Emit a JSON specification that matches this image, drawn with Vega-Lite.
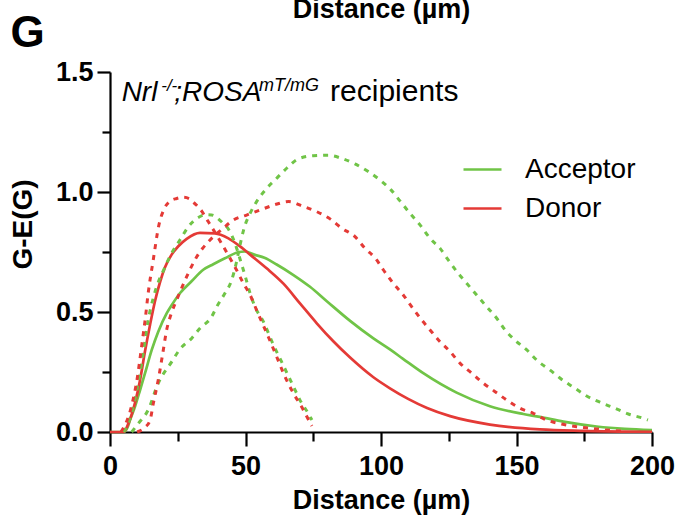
{
  "$schema": "https://vega.github.io/schema/vega-lite/v6.json",
  "width": 542,
  "height": 360,
  "autosize": {"type": "none"},
  "padding": {"left": 110, "top": 72, "right": 27, "bottom": 89},
  "background": "white",
  "config": {"view": {"stroke": null}},
  "datasets": {
    "curves": [
      {"g":"Acceptor","c":"mean","x":0,"y":0},{"g":"Acceptor","c":"mean","x":5,"y":0},{"g":"Acceptor","c":"mean","x":6.5,"y":0.02},{"g":"Acceptor","c":"mean","x":7.4,"y":0.05},{"g":"Acceptor","c":"mean","x":9.2,"y":0.105},{"g":"Acceptor","c":"mean","x":11.1,"y":0.175},{"g":"Acceptor","c":"mean","x":12.9,"y":0.244},{"g":"Acceptor","c":"mean","x":15.4,"y":0.342},{"g":"Acceptor","c":"mean","x":17.8,"y":0.418},{"g":"Acceptor","c":"mean","x":20.9,"y":0.494},{"g":"Acceptor","c":"mean","x":22.8,"y":0.529},{"g":"Acceptor","c":"mean","x":25.8,"y":0.578},{"g":"Acceptor","c":"mean","x":30.1,"y":0.628},{"g":"Acceptor","c":"mean","x":34.4,"y":0.676},{"g":"Acceptor","c":"mean","x":38.1,"y":0.699},{"g":"Acceptor","c":"mean","x":42.4,"y":0.724},{"g":"Acceptor","c":"mean","x":47.3,"y":0.749},{"g":"Acceptor","c":"mean","x":49.8,"y":0.752},{"g":"Acceptor","c":"mean","x":53.5,"y":0.738},{"g":"Acceptor","c":"mean","x":57,"y":0.726},{"g":"Acceptor","c":"mean","x":61.5,"y":0.698},{"g":"Acceptor","c":"mean","x":67.7,"y":0.654},{"g":"Acceptor","c":"mean","x":73.8,"y":0.605},{"g":"Acceptor","c":"mean","x":80,"y":0.545},{"g":"Acceptor","c":"mean","x":88.6,"y":0.463},{"g":"Acceptor","c":"mean","x":97.2,"y":0.39},{"g":"Acceptor","c":"mean","x":103.3,"y":0.344},{"g":"Acceptor","c":"mean","x":108,"y":0.306},{"g":"Acceptor","c":"mean","x":115.6,"y":0.245},{"g":"Acceptor","c":"mean","x":127.9,"y":0.164},{"g":"Acceptor","c":"mean","x":140.2,"y":0.107},{"g":"Acceptor","c":"mean","x":152.5,"y":0.075},{"g":"Acceptor","c":"mean","x":158.6,"y":0.063},{"g":"Acceptor","c":"mean","x":167.3,"y":0.043},{"g":"Acceptor","c":"mean","x":179.6,"y":0.023},{"g":"Acceptor","c":"mean","x":190,"y":0.013},{"g":"Acceptor","c":"mean","x":200,"y":0.008},

      {"g":"Donor","c":"mean","x":0,"y":0},{"g":"Donor","c":"mean","x":5,"y":0},{"g":"Donor","c":"mean","x":6.8,"y":0.036},{"g":"Donor","c":"mean","x":9.2,"y":0.12},{"g":"Donor","c":"mean","x":11.1,"y":0.217},{"g":"Donor","c":"mean","x":12.9,"y":0.335},{"g":"Donor","c":"mean","x":14.8,"y":0.448},{"g":"Donor","c":"mean","x":16.6,"y":0.545},{"g":"Donor","c":"mean","x":18.5,"y":0.626},{"g":"Donor","c":"mean","x":20.3,"y":0.686},{"g":"Donor","c":"mean","x":22.8,"y":0.74},{"g":"Donor","c":"mean","x":25.2,"y":0.774},{"g":"Donor","c":"mean","x":28.3,"y":0.805},{"g":"Donor","c":"mean","x":33.2,"y":0.83},{"g":"Donor","c":"mean","x":38.7,"y":0.828},{"g":"Donor","c":"mean","x":43.7,"y":0.807},{"g":"Donor","c":"mean","x":48.6,"y":0.768},{"g":"Donor","c":"mean","x":51.7,"y":0.739},{"g":"Donor","c":"mean","x":57.8,"y":0.682},{"g":"Donor","c":"mean","x":64,"y":0.618},{"g":"Donor","c":"mean","x":70.1,"y":0.536},{"g":"Donor","c":"mean","x":76.3,"y":0.453},{"g":"Donor","c":"mean","x":82.4,"y":0.378},{"g":"Donor","c":"mean","x":88.6,"y":0.31},{"g":"Donor","c":"mean","x":97.2,"y":0.228},{"g":"Donor","c":"mean","x":103.3,"y":0.182},{"g":"Donor","c":"mean","x":110,"y":0.138},{"g":"Donor","c":"mean","x":117,"y":0.1},{"g":"Donor","c":"mean","x":125.5,"y":0.066},{"g":"Donor","c":"mean","x":140.2,"y":0.031},{"g":"Donor","c":"mean","x":158.6,"y":0.011},{"g":"Donor","c":"mean","x":175,"y":0.005},{"g":"Donor","c":"mean","x":200,"y":0.001},

      {"g":"Acceptor","c":"sd1","x":5,"y":0},{"g":"Acceptor","c":"sd1","x":6.5,"y":0.03},{"g":"Acceptor","c":"sd1","x":8,"y":0.08},{"g":"Acceptor","c":"sd1","x":10,"y":0.18},{"g":"Acceptor","c":"sd1","x":12,"y":0.31},{"g":"Acceptor","c":"sd1","x":14,"y":0.46},{"g":"Acceptor","c":"sd1","x":16,"y":0.56},{"g":"Acceptor","c":"sd1","x":18,"y":0.63},{"g":"Acceptor","c":"sd1","x":20,"y":0.68},{"g":"Acceptor","c":"sd1","x":22.5,"y":0.74},{"g":"Acceptor","c":"sd1","x":25.8,"y":0.8},{"g":"Acceptor","c":"sd1","x":28.9,"y":0.855},{"g":"Acceptor","c":"sd1","x":32.6,"y":0.894},{"g":"Acceptor","c":"sd1","x":35.5,"y":0.905},{"g":"Acceptor","c":"sd1","x":37.5,"y":0.904},{"g":"Acceptor","c":"sd1","x":41.5,"y":0.872},{"g":"Acceptor","c":"sd1","x":44,"y":0.84},{"g":"Acceptor","c":"sd1","x":46,"y":0.79},{"g":"Acceptor","c":"sd1","x":48,"y":0.72},{"g":"Acceptor","c":"sd1","x":50,"y":0.645},{"g":"Acceptor","c":"sd1","x":51.7,"y":0.578},{"g":"Acceptor","c":"sd1","x":53.5,"y":0.522},{"g":"Acceptor","c":"sd1","x":56.6,"y":0.46},{"g":"Acceptor","c":"sd1","x":60.3,"y":0.363},{"g":"Acceptor","c":"sd1","x":63.3,"y":0.293},{"g":"Acceptor","c":"sd1","x":67.7,"y":0.189},{"g":"Acceptor","c":"sd1","x":70.1,"y":0.133},{"g":"Acceptor","c":"sd1","x":73.5,"y":0.071},{"g":"Acceptor","c":"sd1","x":74.5,"y":0.05},

      {"g":"Acceptor","c":"sd2","x":8,"y":0},{"g":"Acceptor","c":"sd2","x":10.5,"y":0.036},{"g":"Acceptor","c":"sd2","x":14.1,"y":0.092},{"g":"Acceptor","c":"sd2","x":17.8,"y":0.203},{"g":"Acceptor","c":"sd2","x":22.8,"y":0.293},{"g":"Acceptor","c":"sd2","x":25.8,"y":0.345},{"g":"Acceptor","c":"sd2","x":30.1,"y":0.39},{"g":"Acceptor","c":"sd2","x":33.2,"y":0.432},{"g":"Acceptor","c":"sd2","x":37.5,"y":0.48},{"g":"Acceptor","c":"sd2","x":39.4,"y":0.522},{"g":"Acceptor","c":"sd2","x":42.4,"y":0.578},{"g":"Acceptor","c":"sd2","x":44.9,"y":0.633},{"g":"Acceptor","c":"sd2","x":46.5,"y":0.7},{"g":"Acceptor","c":"sd2","x":48,"y":0.78},{"g":"Acceptor","c":"sd2","x":49.5,"y":0.85},{"g":"Acceptor","c":"sd2","x":51.7,"y":0.911},{"g":"Acceptor","c":"sd2","x":54.1,"y":0.96},{"g":"Acceptor","c":"sd2","x":57.8,"y":1.015},{"g":"Acceptor","c":"sd2","x":61.5,"y":1.057},{"g":"Acceptor","c":"sd2","x":65.2,"y":1.099},{"g":"Acceptor","c":"sd2","x":69.5,"y":1.138},{"g":"Acceptor","c":"sd2","x":75,"y":1.151},{"g":"Acceptor","c":"sd2","x":80.6,"y":1.153},{"g":"Acceptor","c":"sd2","x":85.5,"y":1.14},{"g":"Acceptor","c":"sd2","x":90.4,"y":1.117},{"g":"Acceptor","c":"sd2","x":95.3,"y":1.085},{"g":"Acceptor","c":"sd2","x":99.6,"y":1.05},{"g":"Acceptor","c":"sd2","x":103.6,"y":1.01},{"g":"Acceptor","c":"sd2","x":107,"y":0.963},{"g":"Acceptor","c":"sd2","x":110.7,"y":0.911},{"g":"Acceptor","c":"sd2","x":114.4,"y":0.863},{"g":"Acceptor","c":"sd2","x":118.1,"y":0.807},{"g":"Acceptor","c":"sd2","x":121.8,"y":0.765},{"g":"Acceptor","c":"sd2","x":124.8,"y":0.717},{"g":"Acceptor","c":"sd2","x":128.5,"y":0.661},{"g":"Acceptor","c":"sd2","x":131.6,"y":0.62},{"g":"Acceptor","c":"sd2","x":135.3,"y":0.571},{"g":"Acceptor","c":"sd2","x":139,"y":0.522},{"g":"Acceptor","c":"sd2","x":142.7,"y":0.474},{"g":"Acceptor","c":"sd2","x":145.8,"y":0.425},{"g":"Acceptor","c":"sd2","x":149.4,"y":0.383},{"g":"Acceptor","c":"sd2","x":153.8,"y":0.342},{"g":"Acceptor","c":"sd2","x":157.7,"y":0.297},{"g":"Acceptor","c":"sd2","x":162.4,"y":0.258},{"g":"Acceptor","c":"sd2","x":166.7,"y":0.219},{"g":"Acceptor","c":"sd2","x":171.6,"y":0.182},{"g":"Acceptor","c":"sd2","x":175.9,"y":0.15},{"g":"Acceptor","c":"sd2","x":180.8,"y":0.124},{"g":"Acceptor","c":"sd2","x":186.3,"y":0.099},{"g":"Acceptor","c":"sd2","x":191.3,"y":0.075},{"g":"Acceptor","c":"sd2","x":196.8,"y":0.057},{"g":"Acceptor","c":"sd2","x":198.5,"y":0.05},

      {"g":"Donor","c":"sd1","x":4,"y":0},{"g":"Donor","c":"sd1","x":6,"y":0.04},{"g":"Donor","c":"sd1","x":8,"y":0.11},{"g":"Donor","c":"sd1","x":9,"y":0.16},{"g":"Donor","c":"sd1","x":10,"y":0.22},{"g":"Donor","c":"sd1","x":11,"y":0.3},{"g":"Donor","c":"sd1","x":12,"y":0.385},{"g":"Donor","c":"sd1","x":13,"y":0.47},{"g":"Donor","c":"sd1","x":14,"y":0.57},{"g":"Donor","c":"sd1","x":16,"y":0.72},{"g":"Donor","c":"sd1","x":18,"y":0.86},{"g":"Donor","c":"sd1","x":20,"y":0.93},{"g":"Donor","c":"sd1","x":22,"y":0.96},{"g":"Donor","c":"sd1","x":24.6,"y":0.973},{"g":"Donor","c":"sd1","x":27,"y":0.978},{"g":"Donor","c":"sd1","x":29.5,"y":0.971},{"g":"Donor","c":"sd1","x":31,"y":0.955},{"g":"Donor","c":"sd1","x":33.2,"y":0.93},{"g":"Donor","c":"sd1","x":36.3,"y":0.876},{"g":"Donor","c":"sd1","x":41.2,"y":0.785},{"g":"Donor","c":"sd1","x":44,"y":0.73},{"g":"Donor","c":"sd1","x":46.7,"y":0.675},{"g":"Donor","c":"sd1","x":49.2,"y":0.62},{"g":"Donor","c":"sd1","x":51.7,"y":0.571},{"g":"Donor","c":"sd1","x":54.1,"y":0.508},{"g":"Donor","c":"sd1","x":58.4,"y":0.397},{"g":"Donor","c":"sd1","x":61.5,"y":0.314},{"g":"Donor","c":"sd1","x":64,"y":0.245},{"g":"Donor","c":"sd1","x":67.7,"y":0.161},{"g":"Donor","c":"sd1","x":70.7,"y":0.105},{"g":"Donor","c":"sd1","x":73.5,"y":0.046},{"g":"Donor","c":"sd1","x":74.5,"y":0.025},

      {"g":"Donor","c":"sd2","x":10,"y":0},{"g":"Donor","c":"sd2","x":13,"y":0.02},{"g":"Donor","c":"sd2","x":14.8,"y":0.05},{"g":"Donor","c":"sd2","x":16,"y":0.12},{"g":"Donor","c":"sd2","x":17.8,"y":0.217},{"g":"Donor","c":"sd2","x":19.5,"y":0.33},{"g":"Donor","c":"sd2","x":20.9,"y":0.425},{"g":"Donor","c":"sd2","x":22.5,"y":0.49},{"g":"Donor","c":"sd2","x":24.6,"y":0.55},{"g":"Donor","c":"sd2","x":28.3,"y":0.647},{"g":"Donor","c":"sd2","x":32,"y":0.73},{"g":"Donor","c":"sd2","x":36.9,"y":0.8},{"g":"Donor","c":"sd2","x":41.8,"y":0.849},{"g":"Donor","c":"sd2","x":45.5,"y":0.883},{"g":"Donor","c":"sd2","x":50.4,"y":0.904},{"g":"Donor","c":"sd2","x":55.4,"y":0.925},{"g":"Donor","c":"sd2","x":60.6,"y":0.946},{"g":"Donor","c":"sd2","x":66,"y":0.96},{"g":"Donor","c":"sd2","x":71.3,"y":0.94},{"g":"Donor","c":"sd2","x":76.3,"y":0.918},{"g":"Donor","c":"sd2","x":81.2,"y":0.888},{"g":"Donor","c":"sd2","x":85.5,"y":0.849},{"g":"Donor","c":"sd2","x":90.4,"y":0.814},{"g":"Donor","c":"sd2","x":94.1,"y":0.765},{"g":"Donor","c":"sd2","x":97.9,"y":0.724},{"g":"Donor","c":"sd2","x":100.9,"y":0.675},{"g":"Donor","c":"sd2","x":104.5,"y":0.62},{"g":"Donor","c":"sd2","x":108.2,"y":0.571},{"g":"Donor","c":"sd2","x":111.3,"y":0.522},{"g":"Donor","c":"sd2","x":115,"y":0.467},{"g":"Donor","c":"sd2","x":118.1,"y":0.425},{"g":"Donor","c":"sd2","x":121.8,"y":0.376},{"g":"Donor","c":"sd2","x":125.5,"y":0.335},{"g":"Donor","c":"sd2","x":129.2,"y":0.286},{"g":"Donor","c":"sd2","x":133.5,"y":0.245},{"g":"Donor","c":"sd2","x":137.8,"y":0.203},{"g":"Donor","c":"sd2","x":142.1,"y":0.168},{"g":"Donor","c":"sd2","x":146.4,"y":0.133},{"g":"Donor","c":"sd2","x":151.3,"y":0.099},{"g":"Donor","c":"sd2","x":156.2,"y":0.078},{"g":"Donor","c":"sd2","x":161.1,"y":0.05},{"g":"Donor","c":"sd2","x":166.7,"y":0.033},{"g":"Donor","c":"sd2","x":172.2,"y":0.022},{"g":"Donor","c":"sd2","x":177.8,"y":0.015},{"g":"Donor","c":"sd2","x":183.3,"y":0.008},{"g":"Donor","c":"sd2","x":188.8,"y":0.004},{"g":"Donor","c":"sd2","x":190.5,"y":0.003}
    ]
  },
  "data": {"name": "curves"},
  "layer": [
    {
      "transform": [{"filter": "datum.c === 'mean'"}],
      "mark": {"type": "line", "strokeWidth": 2.7, "interpolate": "monotone", "clip": false},
      "encoding": {
        "x": {
          "field": "x", "type": "quantitative",
          "scale": {"domain": [0, 200], "nice": false, "zero": false},
          "axis": {
            "values": [0, 50, 100, 150, 200],
            "grid": false,
            "domainColor": "black", "domainWidth": 2.2,
            "tickSize": 14, "tickColor": "black", "tickWidth": 2.2,
            "labelFont": "Liberation Sans", "labelColor": "black",
            "labelFontSize": 27, "labelFontWeight": "bold", "labelPadding": 7,
            "labelFlush": false, "labelOverlap": false,
            "title": "Distance (µm)", "titleFont": "Liberation Sans", "titleColor": "black", "titleFontSize": 27, "titleFontWeight": "bold",
            "titleX": 271, "titleY": 76, "titleBaseline": "alphabetic", "titleAlign": "center"
          }
        },
        "y": {
          "field": "y", "type": "quantitative",
          "scale": {"domain": [0, 1.5], "nice": false, "zero": false},
          "axis": {
            "values": [0, 0.5, 1, 1.5],
            "format": ".1f",
            "grid": false,
            "domainColor": "black", "domainWidth": 2.2,
            "tickSize": 13, "tickColor": "black", "tickWidth": 2.2,
            "labelFont": "Liberation Sans", "labelColor": "black",
            "labelFontSize": 27, "labelFontWeight": "bold", "labelPadding": 4,
            "labelFlush": false, "labelOverlap": false,
            "title": "G-E(G)", "titleFont": "Liberation Sans", "titleColor": "black", "titleFontSize": 28, "titleFontWeight": "bold",
            "titleX": -87, "titleY": 152, "titleBaseline": "middle", "titleAlign": "center", "titleAngle": 270
          }
        },
        "color": {
          "field": "g", "type": "nominal",
          "scale": {"domain": ["Acceptor", "Donor"], "range": ["#70c447", "#e43a36"]},
          "legend": {
            "orient": "none", "legendX": 352, "legendY": 77, "title": null,
            "symbolType": "stroke", "symbolSize": 1444, "symbolStrokeWidth": 2.7,
            "labelFontSize": 28, "labelFont": "Liberation Sans", "labelColor": "black",
            "labelOffset": 22, "rowPadding": 4, "padding": 0
          }
        }
      }
    },
    {
      "transform": [{"filter": "datum.c !== 'mean'"}],
      "mark": {"type": "line", "strokeWidth": 3, "strokeDash": [5, 6], "interpolate": "monotone", "clip": false},
      "encoding": {
        "x": {
          "field": "x", "type": "quantitative",
          "axis": {
            "orient": "top", "grid": false, "domain": false, "ticks": false, "labels": false,
            "title": "Distance (µm)", "titleFont": "Liberation Sans", "titleColor": "black", "titleFontSize": 27, "titleFontWeight": "bold",
            "titleX": 271, "titleY": -55, "titleBaseline": "alphabetic", "titleAlign": "center"
          }
        },
        "y": {
          "field": "y", "type": "quantitative",
          "axis": {
            "orient": "left", "grid": false, "domain": false, "ticks": false, "labels": false,
            "title": "G", "titleFont": "Liberation Sans", "titleColor": "black", "titleFontSize": 44, "titleFontWeight": "bold", "titleAngle": 0,
            "titleX": -100, "titleY": -26, "titleBaseline": "alphabetic", "titleAlign": "left"
          }
        },
        "color": {"field": "g", "type": "nominal", "legend": null},
        "detail": {"field": "c"}
      }
    },
    {
      "data": {"values": [{"t": "Nrl"}]},
      "mark": {"type": "text", "font": "Liberation Sans", "fontStyle": "italic", "fontSize": 28, "align": "left", "baseline": "alphabetic", "color": "black"},
      "encoding": {
        "x": {"datum": 4.3, "type": "quantitative", "axis": null},
        "y": {"datum": 1.379, "type": "quantitative", "axis": null},
        "text": {"field": "t"}
      }
    },
    {
      "data": {"values": [{"t": "-/-"}]},
      "mark": {"type": "text", "font": "Liberation Sans", "fontStyle": "italic", "fontSize": 17, "align": "left", "baseline": "alphabetic", "color": "black"},
      "encoding": {
        "x": {"datum": 18.9, "type": "quantitative", "axis": null},
        "y": {"datum": 1.421, "type": "quantitative", "axis": null},
        "text": {"field": "t"}
      }
    },
    {
      "data": {"values": [{"t": ";ROSA"}]},
      "mark": {"type": "text", "font": "Liberation Sans", "fontStyle": "italic", "fontSize": 28, "align": "left", "baseline": "alphabetic", "color": "black"},
      "encoding": {
        "x": {"datum": 23.7, "type": "quantitative", "axis": null},
        "y": {"datum": 1.379, "type": "quantitative", "axis": null},
        "text": {"field": "t"}
      }
    },
    {
      "data": {"values": [{"t": "mT/mG"}]},
      "mark": {"type": "text", "font": "Liberation Sans", "fontStyle": "italic", "fontSize": 18, "align": "left", "baseline": "alphabetic", "color": "black"},
      "encoding": {
        "x": {"datum": 55.0, "type": "quantitative", "axis": null},
        "y": {"datum": 1.421, "type": "quantitative", "axis": null},
        "text": {"field": "t"}
      }
    },
    {
      "data": {"values": [{"t": "recipients"}]},
      "mark": {"type": "text", "font": "Liberation Sans", "fontSize": 30, "align": "left", "baseline": "alphabetic", "color": "black"},
      "encoding": {
        "x": {"datum": 81.2, "type": "quantitative", "axis": {"orient": "bottom", "values": [25, 75, 125, 175], "grid": false, "domain": false, "labels": false, "tickSize": 9, "tickColor": "black", "tickWidth": 2.2, "title": null}},
        "y": {"datum": 1.379, "type": "quantitative", "axis": {"orient": "left", "values": [0.25, 0.75, 1.25], "grid": false, "domain": false, "labels": false, "tickSize": 8, "tickColor": "black", "tickWidth": 2.2, "title": null}},
        "text": {"field": "t"}
      }
    }
  ],
  "resolve": {"axis": {"x": "independent", "y": "independent"}}
}
